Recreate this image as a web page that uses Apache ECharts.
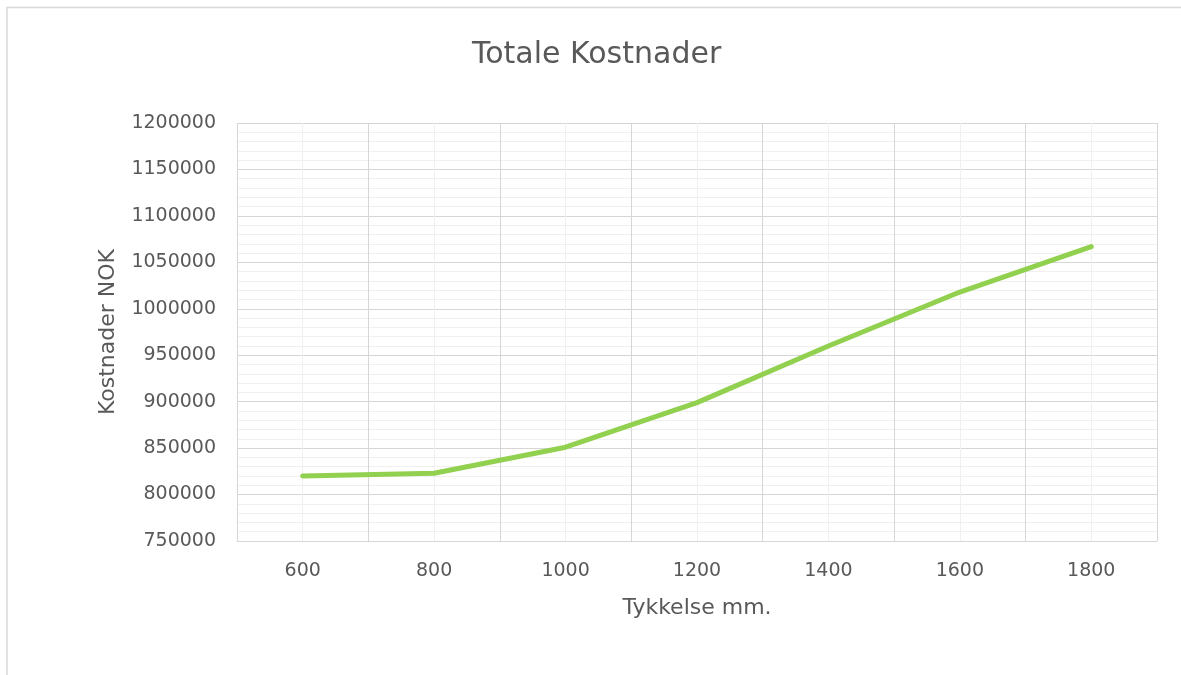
<!DOCTYPE html>
<html>
<head>
<meta charset="utf-8">
<title>Totale Kostnader</title>
<script src="https://cdn.jsdelivr.net/npm/echarts@6/dist/echarts.min.js"></script>
<style>
  html, body { margin: 0; padding: 0; background: #ffffff; }
  #chart { width: 1181px; height: 675px; }
</style>
</head>
<body>
<div id="chart"></div>
<script>
// Thickness (mm) and total cost (NOK)
const thickness = [600, 800, 1000, 1200, 1400, 1600, 1800];
const totalCost = [820000, 823000, 851000, 899000, 960000, 1018000, 1067000];

const titleText = 'Totale Kostnader';
const xAxisTitle = 'Tykkelse mm.';
const yAxisTitle = 'Kostnader NOK';

const FONT = '"DejaVu Sans", sans-serif';
const TEXT = '#595959';
const MAJOR = '#d6d6d6';
const MINOR = '#f0f0f0';

const chart = echarts.init(document.getElementById('chart'), null, { renderer: 'canvas' });

chart.setOption({
  animation: false,
  backgroundColor: '#ffffff',
  textStyle: { fontFamily: FONT },
  graphic: [{
    type: 'rect',
    shape: { x: 7, y: 7.5, width: 1300, height: 800 },
    style: { fill: 'none', stroke: '#d9d9d9', lineWidth: 1.5 },
    silent: true
  }],
  title: {
    text: titleText,
    left: 467,
    top: 35,
    textStyle: { fontFamily: FONT, fontSize: 30, fontWeight: 'normal', color: TEXT }
  },
  grid: { left: 237, top: 123, width: 920, height: 418, containLabel: false },
  xAxis: {
    type: 'value',
    min: 500,
    max: 1900,
    interval: 100,
    name: xAxisTitle,
    nameLocation: 'middle',
    nameGap: 56,
    nameTextStyle: { fontFamily: FONT, fontSize: 22, color: TEXT },
    axisLine: { show: true, lineStyle: { color: MAJOR, width: 1 } },
    axisTick: { show: false },
    axisLabel: {
      margin: 21,
      fontFamily: FONT,
      fontSize: 19,
      color: TEXT,
      formatter: v => (v % 200 === 0 ? String(v) : '')
    },
    // alternating strong/light vertical lines: strong at 500, 700, ..., light at 600, 800, ...
    splitLine: { show: true, lineStyle: { color: [MAJOR, MINOR], width: 1 } }
  },
  yAxis: {
    type: 'value',
    min: 750000,
    max: 1200000,
    interval: 50000,
    name: yAxisTitle,
    nameLocation: 'middle',
    nameRotate: 90,
    nameGap: 118,
    nameTextStyle: { fontFamily: FONT, fontSize: 22, color: TEXT },
    axisLine: { show: false },
    axisTick: { show: false },
    axisLabel: {
      margin: 21,
      fontFamily: FONT,
      fontSize: 19,
      color: TEXT,
      formatter: v => String(v)
    },
    splitLine: { show: true, lineStyle: { color: MAJOR, width: 1 } },
    minorTick: { show: false, splitNumber: 5 },
    minorSplitLine: { show: true, lineStyle: { color: MINOR, width: 1 } }
  },
  series: [{
    type: 'line',
    data: thickness.map((t, i) => [t, totalCost[i]]),
    showSymbol: false,
    symbol: 'none',
    lineStyle: { color: '#92d050', width: 5, cap: 'round', join: 'round' },
    z: 3
  }]
});
</script>
</body>
</html>
